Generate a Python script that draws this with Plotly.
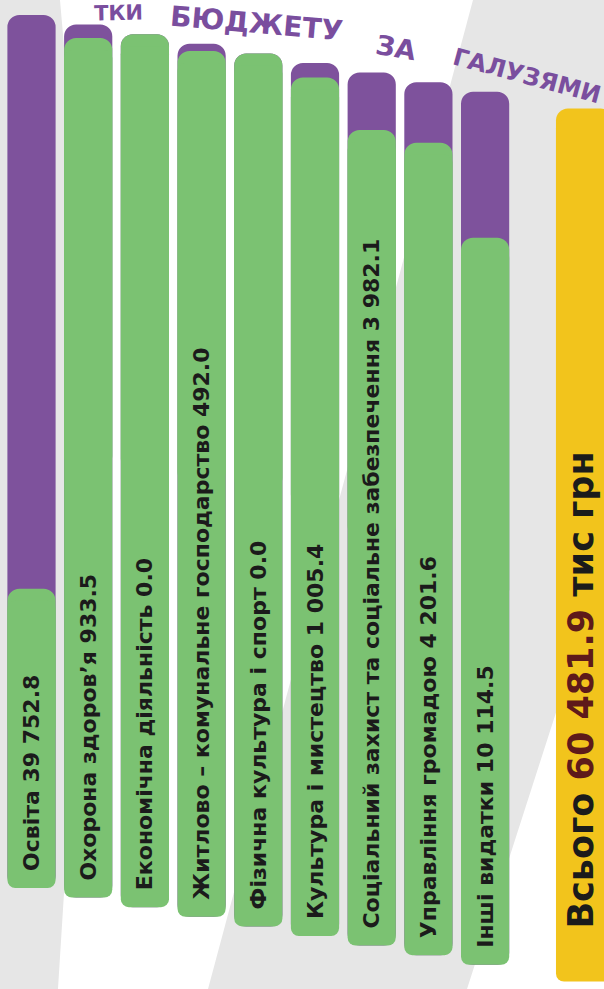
import plotly.graph_objects as go

# ---------------- data ----------------
categories = [
    "Освіта",
    "Охорона здоров’я",
    "Економічна діяльність",
    "Житлово – комунальне господарство",
    "Фізична культура і спорт",
    "Культура і мистецтво",
    "Соціальний захист та соціальне забезпечення",
    "Управління громадою",
    "Інші видатки",
]
values = [39752.8, 933.5, 0.0, 492.0, 0.0, 1005.4, 3982.1, 4201.6, 10114.5]
value_labels = ["39 752.8", "933.5", "0.0", "492.0", "0.0", "1 005.4", "3 982.1", "4 201.6", "10 114.5"]
total = 60481.9
total_label = "60 481.9"
total_prefix = "Всього"
total_unit = "тис грн"
title_words = ["ТКИ", "БЮДЖЕТУ", "ЗА", "ГАЛУЗЯМИ"]

# ---------------- style / geometry ----------------
W, H = 604, 989
PURPLE = "#7e529c"
GREEN = "#7bc272"
YELLOW = "#f2c41c"
BG = "#e6e6e6"
TXT = "#1b1b1b"

BAR_PX = 873.0                 # pixel height of one full bar
k = BAR_PX / total             # px per data unit
STEP = 9.6 / k                 # vertical stagger between neighbouring bars
R_TOP = 12
R_BOT = 8
PAD = 14 / k

n = len(categories)
xs = list(range(n))
x_total = 9.75
bottoms = [-STEP * x for x in xs]
green = [total - v for v in values]

fig = go.Figure()

# purple share (full-height bar, green drawn over it)
fig.add_trace(go.Bar(
    x=xs, y=[total] * n, base=bottoms, width=0.85,
    marker=dict(color=PURPLE, cornerradius=R_TOP, line=dict(width=0)),
    hoverinfo="skip", showlegend=False,
))
# green remainder - upper half (rounded top)
fig.add_trace(go.Bar(
    x=xs, y=[g / 2 for g in green], base=[b + g / 2 for b, g in zip(bottoms, green)], width=0.85,
    marker=dict(color=GREEN, cornerradius=R_TOP, line=dict(width=0)),
    hoverinfo="skip", showlegend=False,
))
# green remainder - drawn downward (rounded bottom)
fig.add_trace(go.Bar(
    x=xs, y=[-(g - R_TOP / k) for g in green], base=[b + g - R_TOP / k for b, g in zip(bottoms, green)],
    width=0.85,
    marker=dict(color=GREEN, cornerradius=R_BOT, line=dict(width=0)),
    hoverinfo="skip", showlegend=False,
))
# labels (transparent carrier bars)
labels = [f"{c} {v}" for c, v in zip(categories, value_labels)]
fig.add_trace(go.Bar(
    x=xs, y=[g - 2 * PAD for g in green], base=[b + PAD for b in bottoms], width=0.85,
    marker=dict(color="rgba(0,0,0,0)", line=dict(width=0)),
    text=labels, textposition="inside", insidetextanchor="start", textangle=-90,
    textfont=dict(family="DejaVu Sans", size=22, color=TXT, weight="bold"),
    constraintext="none",
    hoverinfo="skip", showlegend=False,
))

# total bar
tb = -STEP * x_total
fig.add_trace(go.Bar(
    x=[x_total], y=[total / 2], base=[tb + total / 2], width=1.0,
    marker=dict(color=YELLOW, cornerradius=R_TOP, line=dict(width=0)),
    hoverinfo="skip", showlegend=False,
))
fig.add_trace(go.Bar(
    x=[x_total], y=[-(total - R_TOP / k)], base=[tb + total - R_TOP / k], width=1.0,
    marker=dict(color=YELLOW, cornerradius=R_BOT, line=dict(width=0)),
    hoverinfo="skip", showlegend=False,
))
fig.add_trace(go.Bar(
    x=[x_total - 0.05], y=[total - 110 / k], base=[tb + 50 / k], width=1.0,
    marker=dict(color="rgba(0,0,0,0)", line=dict(width=0)),
    text=[f"{total_prefix} <span style='color:#5e1a1a'>{total_label}</span> {total_unit}"],
    textposition="inside", insidetextanchor="start", textangle=-90,
    textfont=dict(family="DejaVu Sans", size=35, color=TXT, weight="bold"),
    constraintext="none",
    hoverinfo="skip", showlegend=False,
))


def P(px, py):
    return px / W, 1 - py / H


def path(points):
    s = ""
    for i, (px, py) in enumerate(points):
        x, y = P(px, py)
        s += ("M" if i == 0 else "L") + f"{x:.4f},{y:.4f} "
    return s + "Z"


shapes = [
    dict(type="path", xref="paper", yref="paper", layer="below", line=dict(width=0),
         fillcolor="white",
         path=path([(58, 989), (208, 989), (473, 0), (60, 0), (95, 400)])),
    dict(type="path", xref="paper", yref="paper", layer="below", line=dict(width=0),
         fillcolor="white",
         path=path([(467, 989), (560, 700), (585, 430), (604, 380), (604, 989)])),
]

# curved title, word by word
title_pos = [(118, 13, -1, 21), (256, 23, 5, 28), (396, 47, 10, 27), (527, 76, 15, 24)]
annotations = []
for w, (px, py, ang, fs) in zip(title_words, title_pos):
    x, y = P(px, py)
    annotations.append(dict(
        text=w, x=x, y=y, xref="paper", yref="paper", showarrow=False,
        textangle=ang, xanchor="center", yanchor="middle",
        font=dict(family="DejaVu Sans", size=fs, color="#7a4e9e", weight="bold"),
    ))

x0 = -31.5 / 56.7
fig.update_layout(
    width=W, height=H,
    margin=dict(l=0, r=0, t=0, b=0),
    paper_bgcolor=BG, plot_bgcolor="rgba(0,0,0,0)",
    barmode="overlay",
    xaxis=dict(visible=False, range=[x0, x0 + W / 56.7], fixedrange=True),
    yaxis=dict(visible=False, range=[-(H - 888) / k, 888 / k], fixedrange=True),
    shapes=shapes,
    annotations=annotations,
    showlegend=False,
)

fig.write_html(
    "out.html",
    config={"displayModeBar": False},
    post_script="document.body.style.margin='0';document.body.style.overflow='hidden';",
)
